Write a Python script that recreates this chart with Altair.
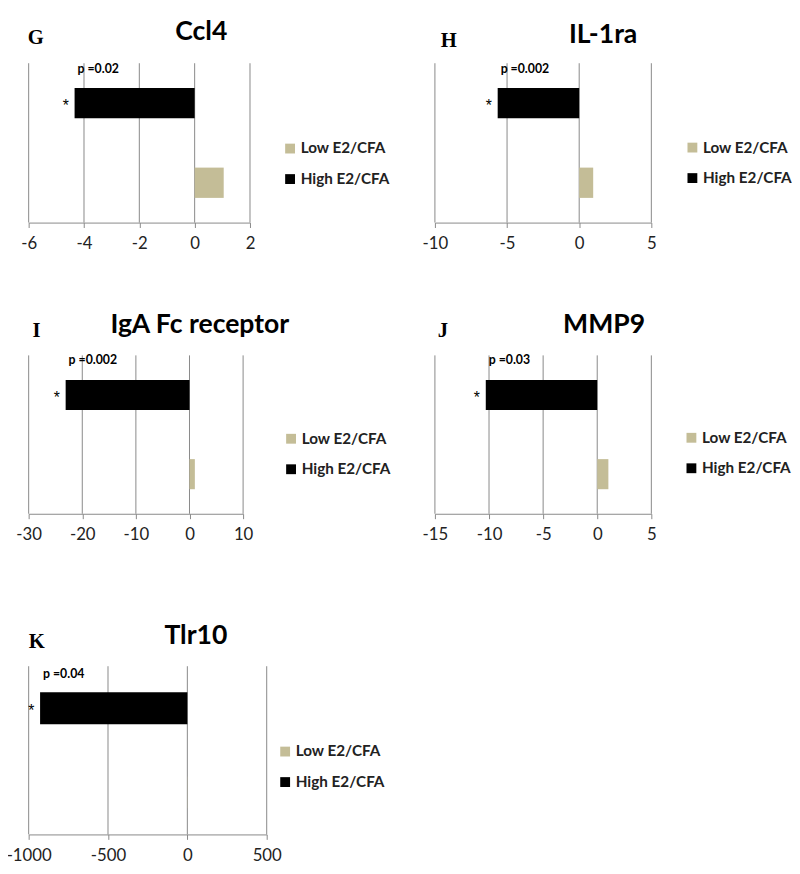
import altair as alt
import pandas as pd

# ---- data ----
groups = ["High E2/CFA", "Low E2/CFA"]
legend_order = ["Low E2/CFA", "High E2/CFA"]
genes = ["Ccl4", "IL-1ra", "IgA Fc receptor", "MMP9", "Tlr10"]
letters = ["G", "H", "I", "J", "K"]
high_values = [-4.34, -5.65, -23.1, -10.3, -928]
low_values = [1.05, 0.97, 1.0, 1.03, 1.0]
p_labels = ["p =0.02", "p =0.002", "p =0.002", "p =0.03", "p =0.04"]
axis_ticks = [
    [-6, -4, -2, 0, 2],
    [-10, -5, 0, 5],
    [-30, -20, -10, 0, 10],
    [-15, -10, -5, 0, 5],
    [-1000, -500, 0, 500],
]

TAN = "#C4BD97"
GRAY = "#888888"
FONT = "Lato"


def panel(i, width, height, title_dx, leg_x, leg_y, letter_x, letter_y, extra=0):
    # extra: blank band above the plot area (cell is taller, grid starts lower)
    df = pd.DataFrame({
        "group": groups,
        "value": [high_values[i], low_values[i]],
        "p": [p_labels[i], ""],
        "star": ["*", ""],
        "letter": [letters[i], ""],
    })
    ticks = axis_ticks[i]
    grid_df = pd.DataFrame({"value": ticks})
    total = height + extra
    xs = alt.Scale(domain=[ticks[0], ticks[-1]], nice=False)
    ys = alt.Scale(domain=groups, range=[extra, total],
                   paddingInner=0.62, paddingOuter=0.31)
    x_axis = alt.Axis(values=ticks, grid=False, domainColor=GRAY, tickColor=GRAY,
                      tickSize=5, labelFont=FONT, labelFontSize=17,
                      labelColor="#222222", labelPadding=8, labelFlush=False,
                      labelOverlap=False, labelExpr="'' + datum.value")
    base = alt.Chart(df)
    grid = alt.Chart(grid_df).mark_rule(color=GRAY, strokeWidth=1).encode(
        x=alt.X("value:Q", scale=xs, title=None, axis=x_axis),
        y=alt.value(extra), y2=alt.value(total),
    )
    bars = base.mark_bar().encode(
        x=alt.X("value:Q", scale=xs, title=None, axis=x_axis),
        y=alt.Y("group:N", scale=ys, axis=None, sort=groups),
        color=alt.Color("group:N",
                        scale=alt.Scale(domain=legend_order, range=[TAN, "#000000"]),
                        legend=alt.Legend(title=None, orient="none", legendX=leg_x,
                                          legendY=leg_y + extra, symbolType="square",
                                          symbolSize=100, symbolStrokeWidth=0,
                                          labelFont=FONT, labelFontWeight="bold",
                                          labelFontSize=15.5, labelColor="#222222",
                                          rowPadding=14, padding=0, labelOffset=3)),
    )
    high = base.transform_filter(alt.datum.group == groups[0])
    ptxt = high.mark_text(align="left", baseline="middle", dx=3, dy=-35, font=FONT,
                          fontWeight="bold", fontSize=12.5, color="#000000").encode(
        x="value:Q", y=alt.Y("group:N", sort=groups), text="p:N")
    star = high.mark_text(align="center", baseline="middle", dx=-9, dy=3,
                          fontSize=16, color="#000000").encode(
        x="value:Q", y=alt.Y("group:N", sort=groups), text="star:N")
    letter = high.mark_text(align="left", baseline="alphabetic", font="Liberation Serif",
                            fontWeight="bold", fontSize=21, color="#000000").encode(
        x=alt.value(letter_x), y=alt.value(letter_y + extra), text="letter:N")
    return alt.layer(grid, bars, ptxt, star, letter).properties(
        width=width, height=total,
        title=alt.TitleParams(genes[i], anchor="middle", frame="group", dx=title_dx,
                              font=FONT, fontSize=27, fontWeight="bold",
                              color="#000000", offset=-19),
    )


G = panel(0, 225, 162, 63, 258, 79, -1, -20)
H = panel(1, 220, 162, 61, 254, 78, 6, -17)
I = panel(2, 218, 161, 65, 259, 77, 4, -19)
J = panel(3, 220, 161, 62, 253, 76, 3, -19)
K = panel(4, 242, 171, 49, 253, 79, 0, -19, extra=20)

chart = alt.concat(
    G, H, I, J, K, columns=2, bounds="flush",
    spacing=alt.RowColnumber(row=135, column=171),
).resolve_scale(
    x="independent", y="independent", color="independent"
).resolve_legend(color="independent").properties(
    padding={"left": -2, "top": 3, "right": 0, "bottom": 0}, background="white"
).configure_view(stroke=None)

chart.save("out.html", embed_options={"renderer": "svg", "actions": False})
